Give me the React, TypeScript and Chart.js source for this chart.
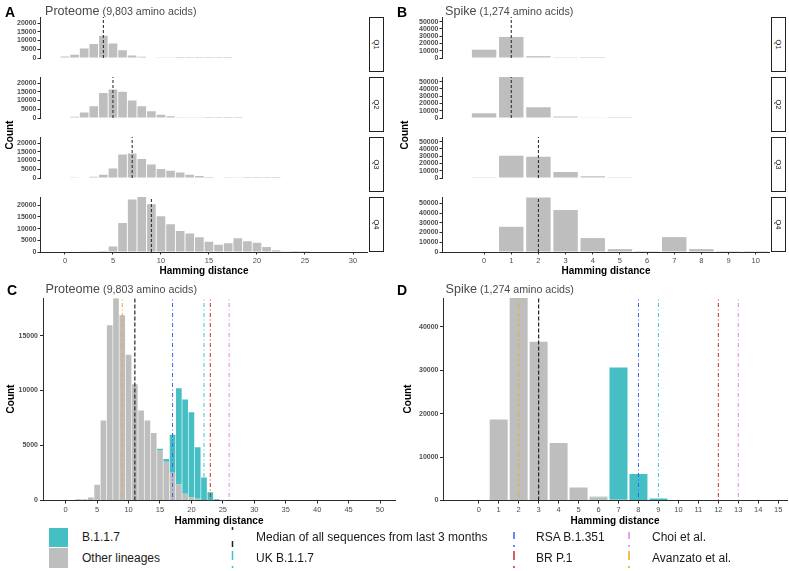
import React, { useEffect, useRef } from 'react';
import { Chart, registerables } from 'chart.js';

Chart.register(...registerables);

// ---------------- DATA ----------------
const FACET_LABELS = ['Q1', 'Q2', 'Q3', 'Q4'];

const PROTEOME_BINS = [0, 1, 2, 3, 4, 5, 6, 7, 8, 9, 10, 11, 12, 13, 14, 15, 16, 17, 18, 19, 20, 21, 22, 23, 24, 25, 26, 27, 28, 29, 30];
const PROT_Q1 = [800, 1900, 5500, 8000, 12800, 8300, 4500, 1500, 700, 300, 150, 100, 60, 40, 20, 10, 10, 5, 0, 0, 0, 0, 0, 0, 0, 0, 0, 0, 0, 0, 0];
const PROT_Q2 = [300, 700, 3100, 6700, 14300, 16300, 15100, 10000, 6700, 3900, 1900, 1000, 400, 200, 100, 60, 30, 20, 10, 0, 0, 0, 0, 0, 0, 0, 0, 0, 0, 0, 0];
const PROT_Q3 = [0, 100, 300, 700, 1900, 5500, 13500, 14100, 10900, 7800, 5100, 4100, 3200, 1900, 1200, 600, 300, 150, 100, 60, 40, 20, 10, 0, 0, 0, 0, 0, 0, 0, 0];
const PROT_Q4 = [0, 0, 100, 150, 400, 2400, 12400, 22400, 23500, 20400, 15300, 11900, 9000, 7900, 6300, 4400, 3100, 3700, 5900, 4600, 3900, 2100, 700, 150, 50, 20, 0, 0, 0, 0, 0];
const PROT_MEDIANS = [4, 5, 7, 9];

const SPIKE_BINS = [0, 1, 2, 3, 4, 5, 6, 7, 8, 9, 10];
const SPIKE_Q1 = [11500, 29000, 2500, 300, 50, 0, 0, 0, 0, 0, 0];
const SPIKE_Q2 = [6500, 56500, 14800, 2000, 500, 150, 0, 0, 0, 0, 0];
const SPIKE_Q3 = [300, 30700, 29300, 8300, 2400, 300, 0, 0, 0, 0, 0];
const SPIKE_Q4 = [0, 25900, 56000, 43200, 14300, 3000, 100, 15300, 3000, 100, 50];
const SPIKE_MEDIANS = [1, 1, 2, 2];

const C_BINS = [0, 1, 2, 3, 4, 5, 6, 7, 8, 9, 10, 11, 12, 13, 14, 15, 16, 17, 18, 19, 20, 21, 22, 23, 24, 25];
const C_OTHER = [0, 0, 120, 120, 270, 1430, 7270, 15930, 18400, 16840, 13250, 10580, 8180, 7270, 6140, 4600, 3530, 2530, 1460, 610, 300, 150, 50, 20, 0, 0];
const C_B117 = [0, 0, 0, 0, 0, 0, 0, 0, 0, 0, 0, 0, 0, 0, 0, 100, 250, 3450, 8760, 8570, 7730, 4700, 2050, 740, 120, 20];

const D_BINS = [0, 1, 2, 3, 4, 5, 6, 7, 8, 9, 10, 11, 12, 13, 14, 15];
const D_OTHER = [0, 18630, 46600, 36560, 13230, 3000, 750, 150, 0, 0, 0, 0, 0, 0, 0, 0];
const D_B117 = [0, 0, 0, 0, 0, 0, 100, 30450, 6080, 460, 0, 0, 0, 0, 0, 0];

// reference lines: median, UK B.1.1.7, RSA B.1.351, BR P.1, Choi et al., Avanzato et al.
const REF_NAMES = ['Median of all sequences from last 3 months', 'UK B.1.1.7', 'RSA B.1.351', 'BR P.1', 'Choi et al.', 'Avanzato et al.'];
const C_REF = [11, 22, 17, 23, 26, 9];
const D_REF = [3, 9, 8, 12, 13, 2];

const A_X_TICKS = [0, 5, 10, 15, 20, 25, 30];
const A_Y_TICKS = [0, 5000, 10000, 15000, 20000];
const B_X_TICKS = [0, 1, 2, 3, 4, 5, 6, 7, 8, 9, 10];
const B_Y_TICKS = [0, 10000, 20000, 30000, 40000, 50000];
const C_X_TICKS = [0, 5, 10, 15, 20, 25, 30, 35, 40, 45, 50];
const C_Y_TICKS = [0, 5000, 10000, 15000];
const D_X_TICKS = [0, 1, 2, 3, 4, 5, 6, 7, 8, 9, 10, 11, 12, 13, 14, 15];
const D_Y_TICKS = [0, 10000, 20000, 30000, 40000];

// ---------------- STYLE ----------------
const FONT = '"Liberation Sans", Arial, Helvetica, sans-serif';
const GRAY = '#BEBEBE';
const TEAL = '#45BFC4';
const AXIS_COLOR = '#2b2b2b';
const TICK_TEXT = '#4d4d4d';
const DOTDASH = [1, 2.5, 4, 2.5];
const REF_STYLES = [
  { color: '#222222', dash: [4, 2], width: 1.2 },
  { color: '#40C4C8', dash: DOTDASH, width: 1 },
  { color: '#3563F0', dash: DOTDASH, width: 1 },
  { color: '#C62828', dash: DOTDASH, width: 1 },
  { color: '#DC88E6', dash: DOTDASH, width: 1 },
  { color: '#F5A623', dash: DOTDASH, width: 1 },
];

const FACET_TOPS = [17, 77, 137, 197];
const FACET_H = 55;

interface Series { values: number[]; color: string }
interface RefLine { x: number; color: string; dash: number[]; width: number }
interface Spec {
  pl: number; pt: number; pw: number; ph: number; yW: number; padT: number; padR: number; padB: number; xH: number;
  bins: number[]; series: Series[]; lines: RefLine[];
  xMin: number; xMax: number; yMax: number; xTicks: number[]; yTicks: number[]; showX: boolean;
  tickLen: number; yPad: number; xPad: number; xFont: number; yFont: number;
}

function geometry(s: Spec) {
  const x = s.pl - s.yW;
  const y = s.pt - s.padT;
  const w = Math.ceil(s.yW + s.pw + s.padR);
  const h = Math.ceil(s.padT + s.ph + (s.showX ? s.xH : s.padB));
  const padR = w - s.yW - s.pw;
  const padB = h - s.padT - s.ph - (s.showX ? s.xH : 0);
  return { x, y, w, h, padR, padB };
}

function buildConfig(s: Spec, g: ReturnType<typeof geometry>): any {
  const datasets: any[] = [];
  s.lines.forEach((l, i) => {
    datasets.push({
      type: 'line',
      data: [{ x: l.x, y: 0 }, { x: l.x, y: s.yMax }],
      borderColor: l.color,
      borderWidth: l.width,
      borderDash: l.dash,
      pointRadius: 0,
      pointHoverRadius: 0,
      fill: false,
      tension: 0,
      order: 0,
      stack: 'ref' + i,
    });
  });
  s.series.forEach((se) => {
    datasets.push({
      type: 'bar',
      data: s.bins.map((b, i) => ({ x: b, y: se.values[i] })),
      backgroundColor: se.color,
      borderWidth: 0,
      barPercentage: 0.9,
      categoryPercentage: 1,
      order: 1,
    });
  });
  return {
    type: 'bar',
    data: { datasets },
    options: {
      animation: false,
      responsive: false,
      maintainAspectRatio: false,
      events: [],
      layout: { padding: { left: 0, top: s.padT, right: g.padR, bottom: g.padB } },
      plugins: { legend: { display: false }, tooltip: { enabled: false }, title: { display: false } },
      scales: {
        x: {
          type: 'linear',
          min: s.xMin,
          max: s.xMax,
          offset: false,
          stacked: true,
          display: s.showX,
          grid: { display: true, offset: false, drawOnChartArea: false, drawTicks: true, tickLength: s.tickLen, tickColor: AXIS_COLOR, tickWidth: 1 },
          border: { display: true, color: AXIS_COLOR, width: 1 },
          ticks: {
            autoSkip: false, maxRotation: 0, minRotation: 0, padding: s.xPad, color: TICK_TEXT,
            font: { family: FONT, size: s.xFont },
            callback: (v: any) => String(v),
          },
          afterBuildTicks: (sc: any) => { sc.ticks = s.xTicks.map((v) => ({ value: v })); },
          afterFit: (sc: any) => { sc.height = s.xH; },
        },
        y: {
          type: 'linear',
          min: 0,
          max: s.yMax,
          stacked: true,
          grid: { display: true, drawOnChartArea: false, drawTicks: true, tickLength: s.tickLen, tickColor: AXIS_COLOR, tickWidth: 1 },
          border: { display: true, color: AXIS_COLOR, width: 1 },
          ticks: {
            autoSkip: false, padding: s.yPad, color: TICK_TEXT,
            font: { family: FONT, size: s.yFont, weight: 'bold' },
            callback: (v: any) => String(v),
          },
          afterBuildTicks: (sc: any) => { sc.ticks = s.yTicks.map((v) => ({ value: v })); },
          afterFit: (sc: any) => { sc.width = s.yW; },
        },
      },
    },
  };
}

function ChartCanvas({ spec }: { spec: Spec }) {
  const ref = useRef<HTMLCanvasElement | null>(null);
  const g = geometry(spec);
  useEffect(() => {
    if (!ref.current) return;
    const chart = new Chart(ref.current, buildConfig(spec, g));
    return () => chart.destroy();
  }, []);
  return (
    <canvas
      ref={ref}
      width={g.w}
      height={g.h}
      style={{ position: 'absolute', left: g.x, top: g.y, width: g.w, height: g.h }}
    />
  );
}

function medianLine(x: number): RefLine {
  return { x, color: '#222222', dash: [3, 2], width: 1 };
}

function makeA(i: number, values: number[]): Spec {
  return {
    pl: 40, pt: FACET_TOPS[i], pw: 327.5, ph: FACET_H, yW: 30, padT: 6, padR: 8, padB: 6, xH: 14,
    bins: PROTEOME_BINS, series: [{ values, color: GRAY }], lines: [medianLine(PROT_MEDIANS[i])],
    xMin: -2.6, xMax: 31.51, yMax: 23500, xTicks: A_X_TICKS, yTicks: A_Y_TICKS, showX: i === 3,
    tickLen: 2.5, yPad: 1, xPad: 1.5, xFont: 7.5, yFont: 7,
  };
}

function makeB(i: number, values: number[]): Spec {
  return {
    pl: 442, pt: FACET_TOPS[i], pw: 327, ph: FACET_H, yW: 34, padT: 6, padR: 6, padB: 6, xH: 14,
    bins: SPIKE_BINS, series: [{ values, color: GRAY }], lines: [medianLine(SPIKE_MEDIANS[i])],
    xMin: -1.55, xMax: 10.49, yMax: 56500, xTicks: B_X_TICKS, yTicks: B_Y_TICKS, showX: i === 3,
    tickLen: 2.5, yPad: 1, xPad: 1.5, xFont: 7.5, yFont: 7,
  };
}

function refLines(vals: number[]): RefLine[] {
  return vals.map((x, i) => ({ x, color: REF_STYLES[i].color, dash: REF_STYLES[i].dash, width: REF_STYLES[i].width }));
}

const SPEC_C: Spec = {
  pl: 43, pt: 298, pw: 352, ph: 202.5, yW: 33, padT: 6, padR: 8, padB: 6, xH: 15,
  bins: C_BINS, series: [{ values: C_OTHER, color: GRAY }, { values: C_B117, color: TEAL }], lines: refLines(C_REF),
  xMin: -3.61, xMax: 52.38, yMax: 18400, xTicks: C_X_TICKS, yTicks: C_Y_TICKS, showX: true,
  tickLen: 3, yPad: 2, xPad: 2, xFont: 7.5, yFont: 7,
};

const SPEC_D: Spec = {
  pl: 443, pt: 298, pw: 344, ph: 202.5, yW: 36, padT: 6, padR: 2, padB: 6, xH: 15,
  bins: D_BINS, series: [{ values: D_OTHER, color: GRAY }, { values: D_B117, color: TEAL }], lines: refLines(D_REF),
  xMin: -1.79, xMax: 15.44, yMax: 46600, xTicks: D_X_TICKS, yTicks: D_Y_TICKS, showX: true,
  tickLen: 3, yPad: 1.5, xPad: 2, xFont: 7.5, yFont: 7,
};

const PROT_QUARTERS = [PROT_Q1, PROT_Q2, PROT_Q3, PROT_Q4];
const SPIKE_QUARTERS = [SPIKE_Q1, SPIKE_Q2, SPIKE_Q3, SPIKE_Q4];

// ---------------- TEXT HELPERS ----------------
function PanelLetter({ x, top, text }: { x: number; top: number; text: string }) {
  return (
    <div style={{ position: 'absolute', left: x, top, fontSize: 14, lineHeight: '16px', fontWeight: 'bold', color: '#000', whiteSpace: 'nowrap' }}>{text}</div>
  );
}

function PanelTitle({ x, top, main, sub }: { x: number; top: number; main: string; sub: string }) {
  return (
    <div style={{ position: 'absolute', left: x, top, lineHeight: '15px', color: '#4a4a4a', whiteSpace: 'nowrap' }}>
      <span style={{ fontSize: 12.6 }}>{main}</span>
      <span style={{ fontSize: 10.7 }}> {sub}</span>
    </div>
  );
}

function CenterText({ cx, cy, text, rotate }: { cx: number; cy: number; text: string; rotate?: boolean }) {
  return (
    <div
      style={{
        position: 'absolute', left: cx, top: cy, fontSize: 10, lineHeight: '11px', fontWeight: 'bold', color: '#000', whiteSpace: 'nowrap',
        transform: `translate(-50%, -50%)${rotate ? ' rotate(-90deg)' : ''}`,
      }}
    >
      {text}
    </div>
  );
}

function Strip({ x, top, w, h, label }: { x: number; top: number; w: number; h: number; label: string }) {
  return (
    <div
      style={{
        position: 'absolute', left: x, top, width: w, height: h, boxSizing: 'border-box', border: '1.3px solid #222', background: '#fff',
        display: 'flex', alignItems: 'center', justifyContent: 'center',
      }}
    >
      <span style={{ fontSize: 7.5, color: '#1a1a1a', transform: 'rotate(90deg)', whiteSpace: 'nowrap', display: 'inline-block' }}>{label}</span>
    </div>
  );
}

// legend key geometry (glyph drawing only)
const LEGEND_ROW_Y = [537, 558];
const LEGEND_KEYS = [
  { ref: 0, x: 232.5, row: 0, dash: '3 11 6 100' },
  { ref: 1, x: 232.5, row: 1, dash: '0 3 9 6 2 100' },
  { ref: 2, x: 514, row: 0, dash: '0 5 7 6 2 100' },
  { ref: 3, x: 514, row: 1, dash: '0 3 9 6 2 100' },
  { ref: 4, x: 629, row: 0, dash: '0 5 7 6 2 100' },
  { ref: 5, x: 629, row: 1, dash: '0 3 9 6 2 100' },
];
const LEGEND_TEXT_X = [256, 256, 536, 536, 652, 652];
const LEGEND_TEXT_STYLE: React.CSSProperties = { position: 'absolute', fontSize: 12, lineHeight: '14px', color: '#1a1a1a', whiteSpace: 'nowrap' };

export default function App() {
  const specs: Spec[] = [
    ...PROT_QUARTERS.map((v, i) => makeA(i, v)),
    ...SPIKE_QUARTERS.map((v, i) => makeB(i, v)),
    SPEC_C,
    SPEC_D,
  ];
  return (
    <div style={{ position: 'absolute', left: 0, top: 0, width: 789, height: 571, background: '#fff', overflow: 'hidden', fontFamily: FONT }}>
      {specs.map((s, i) => <ChartCanvas key={i} spec={s} />)}

      {FACET_LABELS.map((q, i) => <Strip key={'sa' + i} x={368.5} top={FACET_TOPS[i]} w={15.5} h={FACET_H} label={q} />)}
      {FACET_LABELS.map((q, i) => <Strip key={'sb' + i} x={770.5} top={FACET_TOPS[i]} w={15.5} h={FACET_H} label={q} />)}

      <PanelLetter x={5} top={4} text="A" />
      <PanelLetter x={397} top={4} text="B" />
      <PanelLetter x={7} top={282} text="C" />
      <PanelLetter x={397} top={282} text="D" />

      <PanelTitle x={45} top={2} main="Proteome" sub="(9,803 amino acids)" />
      <PanelTitle x={445} top={2} main="Spike" sub="(1,274 amino acids)" />
      <PanelTitle x={45.5} top={280} main="Proteome" sub="(9,803 amino acids)" />
      <PanelTitle x={445.5} top={280} main="Spike" sub="(1,274 amino acids)" />

      <CenterText cx={9} cy={134.5} text="Count" rotate />
      <CenterText cx={404} cy={134.5} text="Count" rotate />
      <CenterText cx={9.5} cy={399} text="Count" rotate />
      <CenterText cx={407} cy={399} text="Count" rotate />

      <CenterText cx={204} cy={269.5} text="Hamming distance" />
      <CenterText cx={606} cy={269.5} text="Hamming distance" />
      <CenterText cx={219} cy={519.5} text="Hamming distance" />
      <CenterText cx={615} cy={519.5} text="Hamming distance" />

      {/* Legend */}
      <div style={{ position: 'absolute', left: 49, top: 527.5, width: 19, height: 19.5, background: TEAL }} />
      <div style={{ position: 'absolute', left: 49, top: 548, width: 19, height: 19.5, background: GRAY }} />
      <div style={{ ...LEGEND_TEXT_STYLE, left: 82, top: LEGEND_ROW_Y[0] - 7 }}>B.1.1.7</div>
      <div style={{ ...LEGEND_TEXT_STYLE, left: 82, top: LEGEND_ROW_Y[1] - 7 }}>Other lineages</div>
      <svg style={{ position: 'absolute', left: 0, top: 520 }} width={789} height={51}>
        {LEGEND_KEYS.map((k, i) => {
          const y1 = k.row === 0 ? 7 : 28;
          return (
            <line key={i} x1={k.x} x2={k.x} y1={y1} y2={y1 + 20} stroke={REF_STYLES[k.ref].color} strokeWidth={1.5} strokeDasharray={k.dash} />
          );
        })}
      </svg>
      {LEGEND_KEYS.map((k, i) => (
        <div key={'lt' + i} style={{ ...LEGEND_TEXT_STYLE, left: LEGEND_TEXT_X[i], top: LEGEND_ROW_Y[k.row] - 7 }}>
          {REF_NAMES[k.ref]}
        </div>
      ))}
    </div>
  );
}
